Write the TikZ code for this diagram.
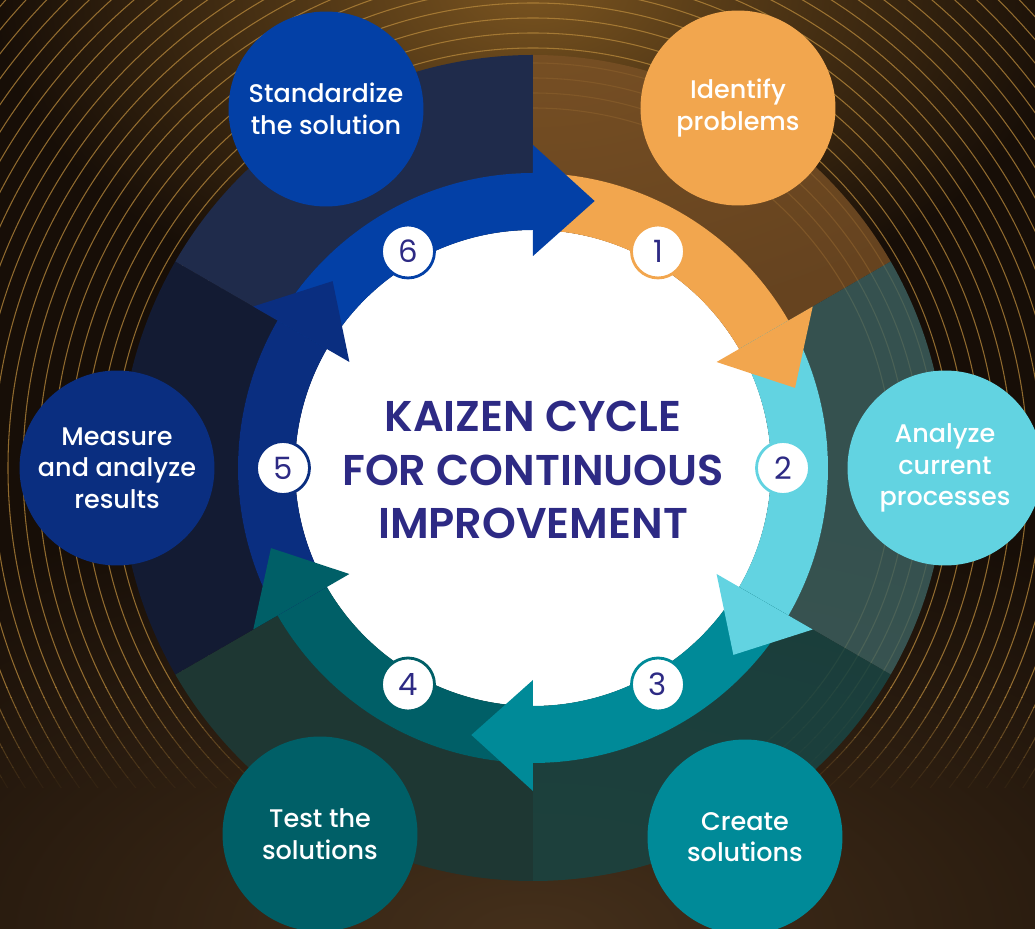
\documentclass[tikz,border=0pt]{standalone}
\usepackage{fontspec}
\setmainfont{Poppins}
\newfontfamily\titlefont{Poppins SemiBold}
\newfontfamily\labelfont{Poppins Medium}
\usepackage{xcolor}
\usetikzlibrary{positioning,calc}

\definecolor{bgdark}{HTML}{170E07}
\definecolor{glowtop}{HTML}{7A5420}
\definecolor{glowbot}{HTML}{45301B}
\definecolor{linegold}{HTML}{B8893C}
\definecolor{titleink}{HTML}{2D2A84}
\definecolor{stepA}{HTML}{F2A64E}
\definecolor{stepB}{HTML}{62D3E1}
\definecolor{stepC}{HTML}{008A98}
\definecolor{stepD}{HTML}{005F67}
\definecolor{stepE}{HTML}{0A2E80}
\definecolor{stepF}{HTML}{0340A6}
\definecolor{secA}{HTML}{7A5126}
\definecolor{secB}{HTML}{3C605F}
\definecolor{secC}{HTML}{1A4341}
\definecolor{secD}{HTML}{1E3733}
\definecolor{secE}{HTML}{131B33}
\definecolor{secF}{HTML}{1F2B4B}

\begin{document}
\begin{tikzpicture}[
        x=0.02cm, y=0.02cm,
        stepcirc/.style={circle,minimum size=3.9cm,inner sep=0pt,align=center,text=white,font=\labelfont\fontsize{14.5}{18}\selectfont},
        badge/.style={circle,draw,fill=white,line width=1.6pt,minimum size=1.06cm,inner sep=0pt,text=titleink,font=\fontsize{17.5}{17.5}\selectfont},
        ringline/.style={draw=linegold,line width=0.6pt}
    ]
    \useasboundingbox (-533,-461) rectangle (502,468);

    % background with the gold rings
    \begin{scope}
        \clip (-533,-461) rectangle (502,468);
        \fill[bgdark] (-533,-461) rectangle (502,468);
        \shade[inner color=glowtop,outer color=bgdark] (0,480) ellipse (540 and 340);
        \shade[inner color=glowbot,outer color=bgdark] (0,-470) ellipse (900 and 460);
        \begin{scope}
            \clip (-533,-220) rectangle (502,468);
            \foreach \r in {360,375,...,735}
                \draw[ringline,opacity=0.75] (0,0) circle (\r);
        \end{scope}
        % rings fade out towards the bottom
        \foreach \k in {1,...,10}{
            \begin{scope}
                \clip (-533,{-210-10*\k}) rectangle (502,{-220-10*\k});
                \foreach \r in {360,375,...,735}
                    \draw[ringline,opacity={0.75*(1-\k/11)}] (0,0) circle (\r);
            \end{scope}
        }
    \end{scope}

    % outer ring, one slice per step
    \fill[secA,fill opacity=0.8] (90:295) arc[start angle=90,end angle=30,radius=295] -- (30:413) arc[start angle=30,end angle=90,radius=413] -- cycle;
    \fill[secB,fill opacity=0.82] (30:295) arc[start angle=30,end angle=-30,radius=295] -- (-30:413) arc[start angle=-30,end angle=30,radius=413] -- cycle;
    \fill[secC,fill opacity=0.9] (-30:295) arc[start angle=-30,end angle=-90,radius=295] -- (-90:413) arc[start angle=-90,end angle=-30,radius=413] -- cycle;
    \fill[secD] (-90:295) arc[start angle=-90,end angle=-150,radius=295] -- (-150:413) arc[start angle=-150,end angle=-90,radius=413] -- cycle;
    \fill[secE] (-150:295) arc[start angle=-150,end angle=-210,radius=295] -- (150:413) arc[start angle=150,end angle=210,radius=413] -- cycle;
    \fill[secF] (150:295) arc[start angle=150,end angle=90,radius=295] -- (90:413) arc[start angle=90,end angle=150,radius=413] -- cycle;

    \fill[white] (0,0) circle (238);

    % arrow bands
    \fill[stepA] (90:238) arc[start angle=90,end angle=30,radius=238] -- (30:295) arc[start angle=30,end angle=90,radius=295] -- cycle;
    \fill[stepB] (30:238) arc[start angle=30,end angle=-30,radius=238] -- (-30:295) arc[start angle=-30,end angle=30,radius=295] -- cycle;
    \fill[stepC] (-30:238) arc[start angle=-30,end angle=-90,radius=238] -- (-90:295) arc[start angle=-90,end angle=-30,radius=295] -- cycle;
    \fill[stepD] (-90:238) arc[start angle=-90,end angle=-150,radius=238] -- (-150:295) arc[start angle=-150,end angle=-90,radius=295] -- cycle;
    \fill[stepE] (-150:238) arc[start angle=-150,end angle=-210,radius=238] -- (150:295) arc[start angle=150,end angle=210,radius=295] -- cycle;
    \fill[stepF] (150:238) arc[start angle=150,end angle=90,radius=238] -- (90:295) arc[start angle=90,end angle=150,radius=295] -- cycle;

    % arrow heads
    \fill[stepA] (30:212) -- (30:323) -- (17:274) -- cycle;
    \fill[stepB] (-30:212) -- (-30:323) -- (-43:274) -- cycle;
    \fill[stepC] (-90:212) -- (-90:323) -- (-103:274) -- cycle;
    \fill[stepD] (-150:212) -- (-150:323) -- (-163:274) -- cycle;
    \fill[stepE] (150:212) -- (150:323) -- (137:274) -- cycle;
    \fill[stepF] (90:212) -- (90:323) -- (77:274) -- cycle;

    \node[badge,draw=stepA] (n1) at (60:250) {1};
    \node[badge,draw=stepB] (n2) at (0:250) {2};
    \node[badge,draw=stepC] (n3) at (-60:250) {3};
    \node[badge,draw=stepD] (n4) at (-120:250) {4};
    \node[badge,draw=stepE] (n5) at (180:250) {5};
    \node[badge,draw=stepF] (n6) at (120:250) {6};

    \node[font=\titlefont\fontsize{24.5}{30.5}\selectfont,text=titleink,align=center] (title) at (0,-2) {KAIZEN CYCLE\\FOR CONTINUOUS\\IMPROVEMENT};

    \node[stepcirc,fill=stepA] (identify) at (205,360) {Identify\\problems};
    \node[stepcirc,fill=stepB] (analyze) at (412,0) {Analyze\\current\\processes};
    \node[stepcirc,fill=stepC] (create) at (212,-369) {Create\\solutions};
    \node[stepcirc,fill=stepD] (test) at (-213,-366) {Test the\\solutions};
    \node[stepcirc,fill=stepE] (measure) at (-416,0) {Measure\\and analyze\\results};
    \node[stepcirc,fill=stepF] (standard) at (-207,359) {Standardize\\the solution};
\end{tikzpicture}
\end{document}
